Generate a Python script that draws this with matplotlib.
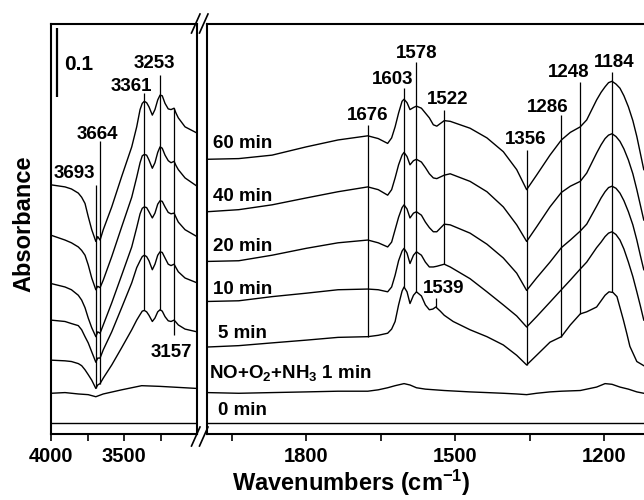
import matplotlib
matplotlib.use("Agg")
import matplotlib.pyplot as plt
from matplotlib.lines import Line2D

plt.rcParams["font.family"] = ["Liberation Sans", "DejaVu Sans"]
plt.rcParams["font.weight"] = "bold"
plt.rcParams["mathtext.fontset"] = "custom"
plt.rcParams["mathtext.rm"] = "Liberation Sans:bold"
plt.rcParams["mathtext.bf"] = "Liberation Sans:bold"
plt.rcParams["mathtext.it"] = "Liberation Sans:bold"
plt.rcParams["mathtext.default"] = "bf"

# ---------------- data ----------------
# trace names, top to bottom
labels = ["60 min", "40 min", "20 min", "10 min", "5 min",
          "NO+O$_2$+NH$_3$ 1 min", "0 min"]

# high-wavenumber region (cm-1), stacked absorbance
wn_hi = [4000, 3904, 3860, 3813, 3790, 3767, 3745, 3721, 3693, 3680, 3664,
         3642, 3584, 3516, 3447, 3413, 3390, 3375, 3361, 3345, 3329, 3306,
         3288, 3269, 3253, 3238, 3219, 3197, 3178, 3157, 3144, 3128, 3082,
         3000]
hi_60 = [0.361, 0.358, 0.355, 0.349, 0.343, 0.334, 0.315, 0.296, 0.279,
         0.286, 0.281, 0.296, 0.329, 0.373, 0.416, 0.445, 0.470, 0.479,
         0.482, 0.480, 0.474, 0.462, 0.470, 0.484, 0.491, 0.490, 0.479,
         0.471, 0.470, 0.472, 0.465, 0.458, 0.445, 0.436]
hi_40 = [0.288, 0.281, 0.277, 0.271, 0.266, 0.259, 0.245, 0.226, 0.209,
         0.214, 0.212, 0.223, 0.257, 0.300, 0.343, 0.372, 0.393, 0.403,
         0.405, 0.404, 0.397, 0.385, 0.393, 0.408, 0.416, 0.414, 0.404,
         0.396, 0.393, 0.395, 0.389, 0.383, 0.371, 0.359]
hi_20 = [0.218, 0.213, 0.209, 0.201, 0.194, 0.183, 0.168, 0.154, 0.141,
         0.148, 0.146, 0.158, 0.190, 0.230, 0.271, 0.299, 0.319, 0.327,
         0.329, 0.328, 0.322, 0.313, 0.320, 0.333, 0.338, 0.337, 0.329,
         0.321, 0.319, 0.320, 0.314, 0.307, 0.296, 0.286]
hi_10 = [0.165, 0.163, 0.160, 0.157, 0.151, 0.141, 0.132, 0.119, 0.104,
         0.110, 0.110, 0.122, 0.148, 0.183, 0.219, 0.241, 0.251, 0.257,
         0.259, 0.257, 0.251, 0.238, 0.246, 0.259, 0.264, 0.263, 0.255,
         0.246, 0.244, 0.246, 0.241, 0.235, 0.226, 0.219]
hi_5 = [0.107, 0.106, 0.105, 0.102, 0.099, 0.093, 0.086, 0.078, 0.066,
        0.071, 0.073, 0.081, 0.100, 0.125, 0.151, 0.165, 0.173, 0.178,
        0.179, 0.177, 0.172, 0.163, 0.168, 0.177, 0.180, 0.178, 0.170,
        0.164, 0.163, 0.165, 0.162, 0.158, 0.152, 0.148]
wn_hi_1 = [4000, 3904, 3813, 3745, 3693, 3642, 3516, 3379, 3253, 3000]
hi_1 = [0.059, 0.060, 0.058, 0.057, 0.054, 0.058, 0.064, 0.070, 0.069, 0.066]
wn_hi_0 = [4000, 3000]
hi_0 = [0.016, 0.016]

# fingerprint region (cm-1), stacked absorbance
wn_lo = [2000, 1936, 1869, 1800, 1736, 1676, 1655, 1636, 1628, 1621, 1614,
         1607, 1603, 1597, 1591, 1584, 1578, 1568, 1560, 1552, 1544, 1537,
         1522, 1510, 1470, 1436, 1403, 1376, 1356, 1336, 1309, 1286, 1268,
         1248, 1235, 1215, 1206, 1198, 1191, 1184, 1176, 1168, 1160, 1151,
         1142, 1134, 1127, 1120]
lo_60 = [0.398, 0.399, 0.404, 0.416, 0.426, 0.432, 0.428, 0.421, 0.429,
         0.445, 0.465, 0.482, 0.485, 0.480, 0.470, 0.473, 0.475, 0.472,
         0.465, 0.458, 0.448, 0.446, 0.454, 0.453, 0.443, 0.429, 0.409,
         0.383, 0.354, 0.375, 0.404, 0.426, 0.437, 0.445, 0.455, 0.484,
         0.495, 0.503, 0.509, 0.511, 0.507, 0.501, 0.490, 0.474, 0.454,
         0.431, 0.407, 0.383]
lo_40 = [0.322, 0.325, 0.332, 0.342, 0.351, 0.358, 0.354, 0.346, 0.354,
         0.371, 0.390, 0.404, 0.408, 0.402, 0.390, 0.396, 0.398, 0.394,
         0.386, 0.377, 0.371, 0.370, 0.375, 0.377, 0.366, 0.351, 0.329,
         0.303, 0.279, 0.300, 0.329, 0.350, 0.359, 0.366, 0.378, 0.407,
         0.419, 0.428, 0.433, 0.435, 0.431, 0.424, 0.413, 0.397, 0.377,
         0.354, 0.332, 0.310]
lo_20 = [0.250, 0.251, 0.259, 0.269, 0.277, 0.281, 0.277, 0.271, 0.278,
         0.296, 0.314, 0.328, 0.332, 0.326, 0.313, 0.320, 0.322, 0.317,
         0.307, 0.299, 0.293, 0.293, 0.304, 0.303, 0.291, 0.275, 0.255,
         0.233, 0.208, 0.226, 0.249, 0.270, 0.281, 0.294, 0.304, 0.330,
         0.342, 0.351, 0.357, 0.359, 0.356, 0.349, 0.338, 0.322, 0.303,
         0.281, 0.259, 0.238]
lo_10 = [0.192, 0.193, 0.199, 0.204, 0.209, 0.210, 0.209, 0.206, 0.213,
         0.230, 0.251, 0.265, 0.269, 0.262, 0.247, 0.259, 0.264, 0.259,
         0.249, 0.242, 0.242, 0.243, 0.246, 0.242, 0.225, 0.206, 0.187,
         0.171, 0.155, 0.170, 0.191, 0.209, 0.223, 0.239, 0.249, 0.270,
         0.278, 0.286, 0.291, 0.293, 0.289, 0.281, 0.268, 0.249, 0.228,
         0.206, 0.186, 0.165]
wn_lo_5 = [2000, 1936, 1869, 1800, 1736, 1676, 1655, 1636, 1628, 1621, 1614,
           1607, 1603, 1597, 1591, 1584, 1578, 1568, 1560, 1552, 1545, 1539,
           1530, 1522, 1504, 1470, 1436, 1403, 1376, 1356, 1336, 1309, 1286,
           1268, 1248, 1235, 1215, 1206, 1198, 1190, 1182, 1174, 1161, 1154,
           1148, 1134, 1120]
lo_5 = [0.126, 0.128, 0.132, 0.136, 0.140, 0.141, 0.143, 0.146, 0.152,
        0.163, 0.187, 0.207, 0.213, 0.206, 0.189, 0.201, 0.206, 0.200,
        0.187, 0.180, 0.181, 0.184, 0.178, 0.172, 0.163, 0.151, 0.141,
        0.129, 0.114, 0.100, 0.114, 0.133, 0.141, 0.158, 0.174, 0.177,
        0.184, 0.193, 0.201, 0.206, 0.205, 0.199, 0.165, 0.145, 0.127,
        0.105, 0.099]
wn_lo_1 = [2000, 1936, 1869, 1800, 1736, 1676, 1655, 1636, 1621, 1603,
           1591, 1578, 1560, 1522, 1470, 1436, 1403, 1376, 1356, 1336,
           1309, 1286, 1248, 1215, 1198, 1184, 1168, 1151, 1134, 1120]
lo_1 = [0.060, 0.059, 0.060, 0.061, 0.062, 0.062, 0.064, 0.067, 0.070,
        0.073, 0.071, 0.067, 0.065, 0.063, 0.061, 0.060, 0.059, 0.058,
        0.057, 0.059, 0.061, 0.062, 0.063, 0.068, 0.073, 0.072, 0.068,
        0.065, 0.061, 0.059]
wn_lo_0 = [2000, 1120]
lo_0 = [0.016, 0.016]

# assigned bands: wavenumber, marker-line top and bottom (absorbance)
bands_hi = [3693, 3664, 3361, 3253, 3157]
bands_hi_top = [0.361, 0.424, 0.494, 0.520, 0.472]
bands_hi_bot = [0.067, 0.073, 0.179, 0.180, 0.144]
bands_lo = [1676, 1603, 1578, 1539, 1522, 1356, 1286, 1248, 1184]
bands_lo_top = [0.448, 0.501, 0.539, 0.197, 0.470, 0.412, 0.462, 0.510, 0.525]
bands_lo_bot = [0.141, 0.213, 0.206, 0.184, 0.246, 0.100, 0.141, 0.174, 0.206]

scale_bar = 0.1

# ---------------- layout ----------------
W, H = 644, 500
fig = plt.figure(figsize=(W / 100, H / 100), dpi=100)

def fx(px):
    return px / W

def fy(py):
    return 1 - py / H

ax_l = fig.add_axes([fx(51), fy(434), fx(146), 410 / H])
ax_r = fig.add_axes([fx(207), fy(434), fx(446.7), 410 / H])

YMAX = 0.594
LW_SPINE = 1.5
FS_LAB = 13.5

for ax in (ax_l, ax_r):
    ax.set_ylim(0, YMAX)
    ax.set_yticks([])
    for s in ax.spines.values():
        s.set_linewidth(LW_SPINE)
    ax.tick_params(axis="x", which="both", direction="out", length=5,
                   width=1.2, labelsize=14.5, pad=4)

ax_l.set_xlim(4000, 3000)
ax_l.set_xticks([4000, 3500])
ax_l.set_xticks([3750, 3250], minor=True)

ax_r.set_xlim(2000, 1100)
ax_r.set_xticks([1800, 1500, 1200])
ax_r.set_xticks([1950, 1650, 1350], minor=True)
ax_r.spines["right"].set_visible(False)

for lab in ax_l.get_xticklabels() + ax_r.get_xticklabels():
    lab.set_fontweight("bold")

hi_traces = [(wn_hi, hi_60), (wn_hi, hi_40), (wn_hi, hi_20), (wn_hi, hi_10),
             (wn_hi, hi_5), (wn_hi_1, hi_1), (wn_hi_0, hi_0)]
lo_traces = [(wn_lo, lo_60), (wn_lo, lo_40), (wn_lo, lo_20), (wn_lo, lo_10),
             (wn_lo_5, lo_5), (wn_lo_1, lo_1), (wn_lo_0, lo_0)]

for x, y in hi_traces:
    ax_l.plot(x, y, color="black", lw=1.0, solid_joinstyle="round")
for x, y in lo_traces:
    ax_r.plot(x, y, color="black", lw=1.0, solid_joinstyle="round")

# band marker lines
ax_l.vlines(bands_hi, bands_hi_bot, bands_hi_top, color="black", lw=0.9)
ax_r.vlines(bands_lo, bands_lo_bot, bands_lo_top, color="black", lw=0.9)

# band labels: offsets in pixels (dx, dy) from the line top, or bottom for 3157
hi_offsets = {3693: (-21, 11), 3664: (-3, 7), 3361: (-13, 7),
              3253: (-6, 12), 3157: (-3, -18)}
lo_offsets = {1676: (0, 9), 1603: (-11, 9), 1578: (0, 8), 1539: (8, 10),
              1522: (3, 10), 1356: (-1, 10), 1286: (-14, 8),
              1248: (-12, 9), 1184: (2, 9)}

def band_labels(ax, bands, tops, bots, offsets):
    for b, t, bt in zip(bands, tops, bots):
        dx, dy = offsets[b]
        anchor = bt if dy < 0 else t
        ax.annotate(str(b), xy=(b, anchor), xytext=(dx * 0.72, dy * 0.72),
                    textcoords="offset points", ha="center", va="center",
                    fontsize=FS_LAB, fontweight="bold")

band_labels(ax_l, bands_hi, bands_hi_top, bands_hi_bot, hi_offsets)
band_labels(ax_r, bands_lo, bands_lo_top, bands_lo_bot, lo_offsets)

# trace names
name_pos = [(1988, 0.421), (1988, 0.344), (1988, 0.271), (1988, 0.209),
            (1977, 0.145), (1995, 0.089), (1977, 0.034)]
for (x, y), txt in zip(name_pos, labels):
    ax_r.text(x, y, txt, ha="left", va="center", fontsize=FS_LAB,
              fontweight="bold")

# absorbance scale bar
ax_l.vlines(3959, 0.488, 0.488 + scale_bar, color="black", lw=1.6)
ax_l.text(3911, 0.5355, f"{scale_bar:g}", ha="left", va="center",
          fontsize=15, fontweight="bold")

# axis titles
fig.text(fx(24), fy(224), "Absorbance", rotation=90, ha="center",
         va="center", fontsize=17, fontweight="bold")
fig.text(fx(351), fy(483), "Wavenumbers (cm$^{-1}$)", ha="center",
         va="center", fontsize=17, fontweight="bold")

# axis break marks
for (x0, y0, x1, y1) in [(191.5, 33, 200, 14), (199.5, 33, 208, 14),
                         (191.5, 446, 200, 427), (199.5, 446, 208, 427)]:
    fig.add_artist(Line2D([fx(x0), fx(x1)], [fy(y0), fy(y1)],
                          transform=fig.transFigure, color="black", lw=1.2))

fig.savefig("out.png", dpi=100)
